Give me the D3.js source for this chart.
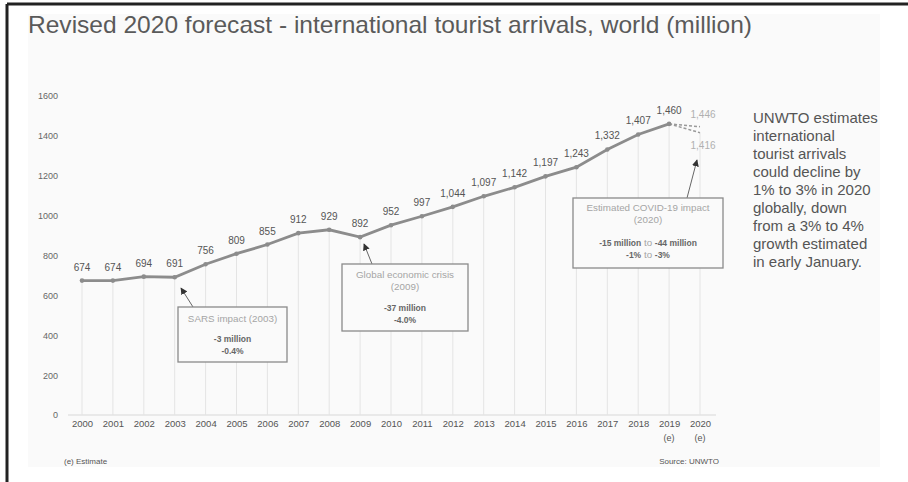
<!DOCTYPE html>
<html>
<head>
<meta charset="utf-8">
<script src="https://cdn.jsdelivr.net/npm/d3@7"></script>
<style>
  html, body { margin: 0; padding: 0; background: #ffffff; }
  svg { display: block; font-family: "Liberation Sans", Arial, sans-serif; }
</style>
</head>
<body>
<svg id="chart" width="908" height="482"></svg>
<script>
// International tourist arrivals, world (million)
const years = ["2000","2001","2002","2003","2004","2005","2006","2007","2008","2009",
               "2010","2011","2012","2013","2014","2015","2016","2017","2018","2019","2020"];
const arrivals = [674, 674, 694, 691, 756, 809, 855, 912, 929, 892,
                  952, 997, 1044, 1097, 1142, 1197, 1243, 1332, 1407, 1460];
const forecast2020 = [1446, 1416];
const estimateYears = ["2019", "2020"];
const yTicks = [0, 200, 400, 600, 800, 1000, 1200, 1400, 1600];

const sideNote = ["UNWTO estimates", "international", "tourist arrivals", "could decline by",
                  "1% to 3% in 2020", "globally, down", "from a 3% to 4%",
                  "growth estimated", "in early January."];

const svg = d3.select("#chart");
const fmt = d3.format(",");

// frame and panel
svg.append("rect").attr("x", 28).attr("y", 14).attr("width", 852).attr("height", 453).attr("fill", "#fafafa");
svg.append("line").attr("x1", 7).attr("x2", 908).attr("y1", 4).attr("y2", 4).attr("stroke", "#222").attr("stroke-width", 3);
svg.append("line").attr("x1", 7).attr("x2", 7).attr("y1", 4).attr("y2", 482).attr("stroke", "#222").attr("stroke-width", 3);

svg.append("text").attr("x", 28).attr("y", 33)
  .attr("font-size", 24).attr("fill", "#5a5a5a")
  .attr("textLength", 724).attr("lengthAdjust", "spacingAndGlyphs")
  .text("Revised 2020 forecast - international tourist arrivals, world (million)");

const x = d3.scalePoint().domain(years).range([82, 700]);
const y = d3.scaleLinear().domain([0, 1600]).range([415, 96]);

// baseline
svg.append("line").attr("x1", 68).attr("x2", 716).attr("y1", y(0)).attr("y2", y(0))
  .attr("stroke", "#d8d8d8").attr("stroke-width", 1);

// drop lines from baseline to each value
const dropVals = arrivals.concat([d3.min(forecast2020)]);
svg.append("g").selectAll("line").data(years).join("line")
  .attr("x1", d => x(d)).attr("x2", d => x(d))
  .attr("y1", y(0)).attr("y2", (d, i) => y(dropVals[i]))
  .attr("stroke", "#e4e4e4").attr("stroke-width", 1);

// y axis
const yAxis = svg.append("g").attr("transform", "translate(62,0)")
  .call(d3.axisLeft(y).tickValues(yTicks).tickSize(0).tickPadding(4).tickFormat(d3.format("d")));
yAxis.select(".domain").remove();
yAxis.selectAll("text").attr("font-size", 9).attr("fill", "#666").attr("font-family", "Liberation Sans, Arial, sans-serif");

// x axis
const xAxis = svg.append("g").attr("transform", `translate(0,${y(0)})`)
  .call(d3.axisBottom(x).tickSize(0).tickPadding(5));
xAxis.select(".domain").remove();
xAxis.selectAll("text").attr("font-size", 9.5).attr("fill", "#555").attr("font-family", "Liberation Sans, Arial, sans-serif");
svg.append("g").selectAll("text").data(estimateYears).join("text")
  .attr("x", d => x(d)).attr("y", 441).attr("text-anchor", "middle")
  .attr("font-size", 9).attr("fill", "#555").text("(e)");

// forecast dashes
const last = years[arrivals.length - 1];
svg.append("g").selectAll("line").data(forecast2020).join("line")
  .attr("x1", x(last)).attr("y1", y(arrivals[arrivals.length - 1]))
  .attr("x2", x("2020")).attr("y2", d => y(d))
  .attr("stroke", "#9a9a9a").attr("stroke-width", 1.5).attr("stroke-dasharray", "3,2");

// main line
const line = d3.line().x((d, i) => x(years[i])).y(d => y(d));
svg.append("path").datum(arrivals).attr("d", line)
  .attr("fill", "none").attr("stroke", "#8c8c8c").attr("stroke-width", 2.8);
svg.append("g").selectAll("circle").data(arrivals).join("circle")
  .attr("cx", (d, i) => x(years[i])).attr("cy", d => y(d)).attr("r", 2.3)
  .attr("fill", "#8c8c8c");

// value labels
svg.append("g").selectAll("text").data(arrivals).join("text")
  .attr("x", (d, i) => x(years[i])).attr("y", d => y(d) - 10)
  .attr("text-anchor", "middle").attr("font-size", 10).attr("fill", "#555")
  .text(d => fmt(d));
svg.append("text").attr("x", x("2020") + 3).attr("y", y(forecast2020[0]) - 9)
  .attr("text-anchor", "middle").attr("font-size", 10).attr("fill", "#b0b0b0").text(fmt(forecast2020[0]));
svg.append("text").attr("x", x("2020") + 3).attr("y", y(forecast2020[1]) + 16)
  .attr("text-anchor", "middle").attr("font-size", 10).attr("fill", "#b0b0b0").text(fmt(forecast2020[1]));

// arrowhead marker
svg.append("defs").append("marker").attr("id", "arrow")
  .attr("viewBox", "0 0 10 10").attr("refX", 9).attr("refY", 5)
  .attr("markerWidth", 7).attr("markerHeight", 7).attr("orient", "auto-start-reverse")
  .append("path").attr("d", "M0,0 L10,5 L0,10 z").attr("fill", "#333");

// annotation callouts
function callout(box, from, to, lines) {
  const g = svg.append("g");
  g.append("line").attr("x1", from[0]).attr("y1", from[1]).attr("x2", to[0]).attr("y2", to[1])
    .attr("stroke", "#666").attr("stroke-width", 1).attr("marker-end", "url(#arrow)");
  g.append("rect").attr("x", box[0]).attr("y", box[1]).attr("width", box[2]).attr("height", box[3])
    .attr("fill", "#fafafa").attr("stroke", "#8a8a8a").attr("stroke-width", 1.3);
  const cx = box[0] + box[2] / 2;
  lines.forEach(l => {
    const t = g.append("text").attr("x", cx).attr("y", l.y).attr("text-anchor", "middle");
    l.parts.forEach(p => {
      t.append("tspan").attr("font-weight", p.bold ? "bold" : "normal")
        .attr("font-size", p.bold ? 8.5 : 9.8)
        .attr("fill", p.bold ? "#666" : "#a5a5a5").text(p.t);
    });
  });
}

callout([178, 307, 109, 55], [193, 307], [181, 288], [
  { y: 322, parts: [{ t: "SARS impact (2003)" }] },
  { y: 342, parts: [{ t: "-3 million", bold: true }] },
  { y: 354, parts: [{ t: "-0.4%", bold: true }] }
]);
callout([342, 264, 126, 67], [372, 264], [364, 244], [
  { y: 278, parts: [{ t: "Global economic crisis" }] },
  { y: 290, parts: [{ t: "(2009)" }] },
  { y: 311, parts: [{ t: "-37 million", bold: true }] },
  { y: 323, parts: [{ t: "-4.0%", bold: true }] }
]);
callout([573, 198, 150, 70], [687, 198], [697, 160], [
  { y: 211, parts: [{ t: "Estimated  COVID-19 impact" }] },
  { y: 223, parts: [{ t: "(2020)" }] },
  { y: 246, parts: [{ t: "-15 million", bold: true }, { t: " to " }, { t: "-44 million", bold: true }] },
  { y: 258, parts: [{ t: "-1%", bold: true }, { t: " to " }, { t: "-3%", bold: true }] }
]);

// side note
svg.append("g").selectAll("text").data(sideNote).join("text")
  .attr("x", 753).attr("y", (d, i) => 123 + i * 18)
  .attr("font-size", 15).attr("fill", "#555").text(d => d);

// footer
svg.append("text").attr("x", 64).attr("y", 464).attr("font-size", 8).attr("fill", "#555").text("(e) Estimate");
svg.append("text").attr("x", 719).attr("y", 464).attr("text-anchor", "end").attr("font-size", 8).attr("fill", "#555").text("Source: UNWTO");
</script>
</body>
</html>
